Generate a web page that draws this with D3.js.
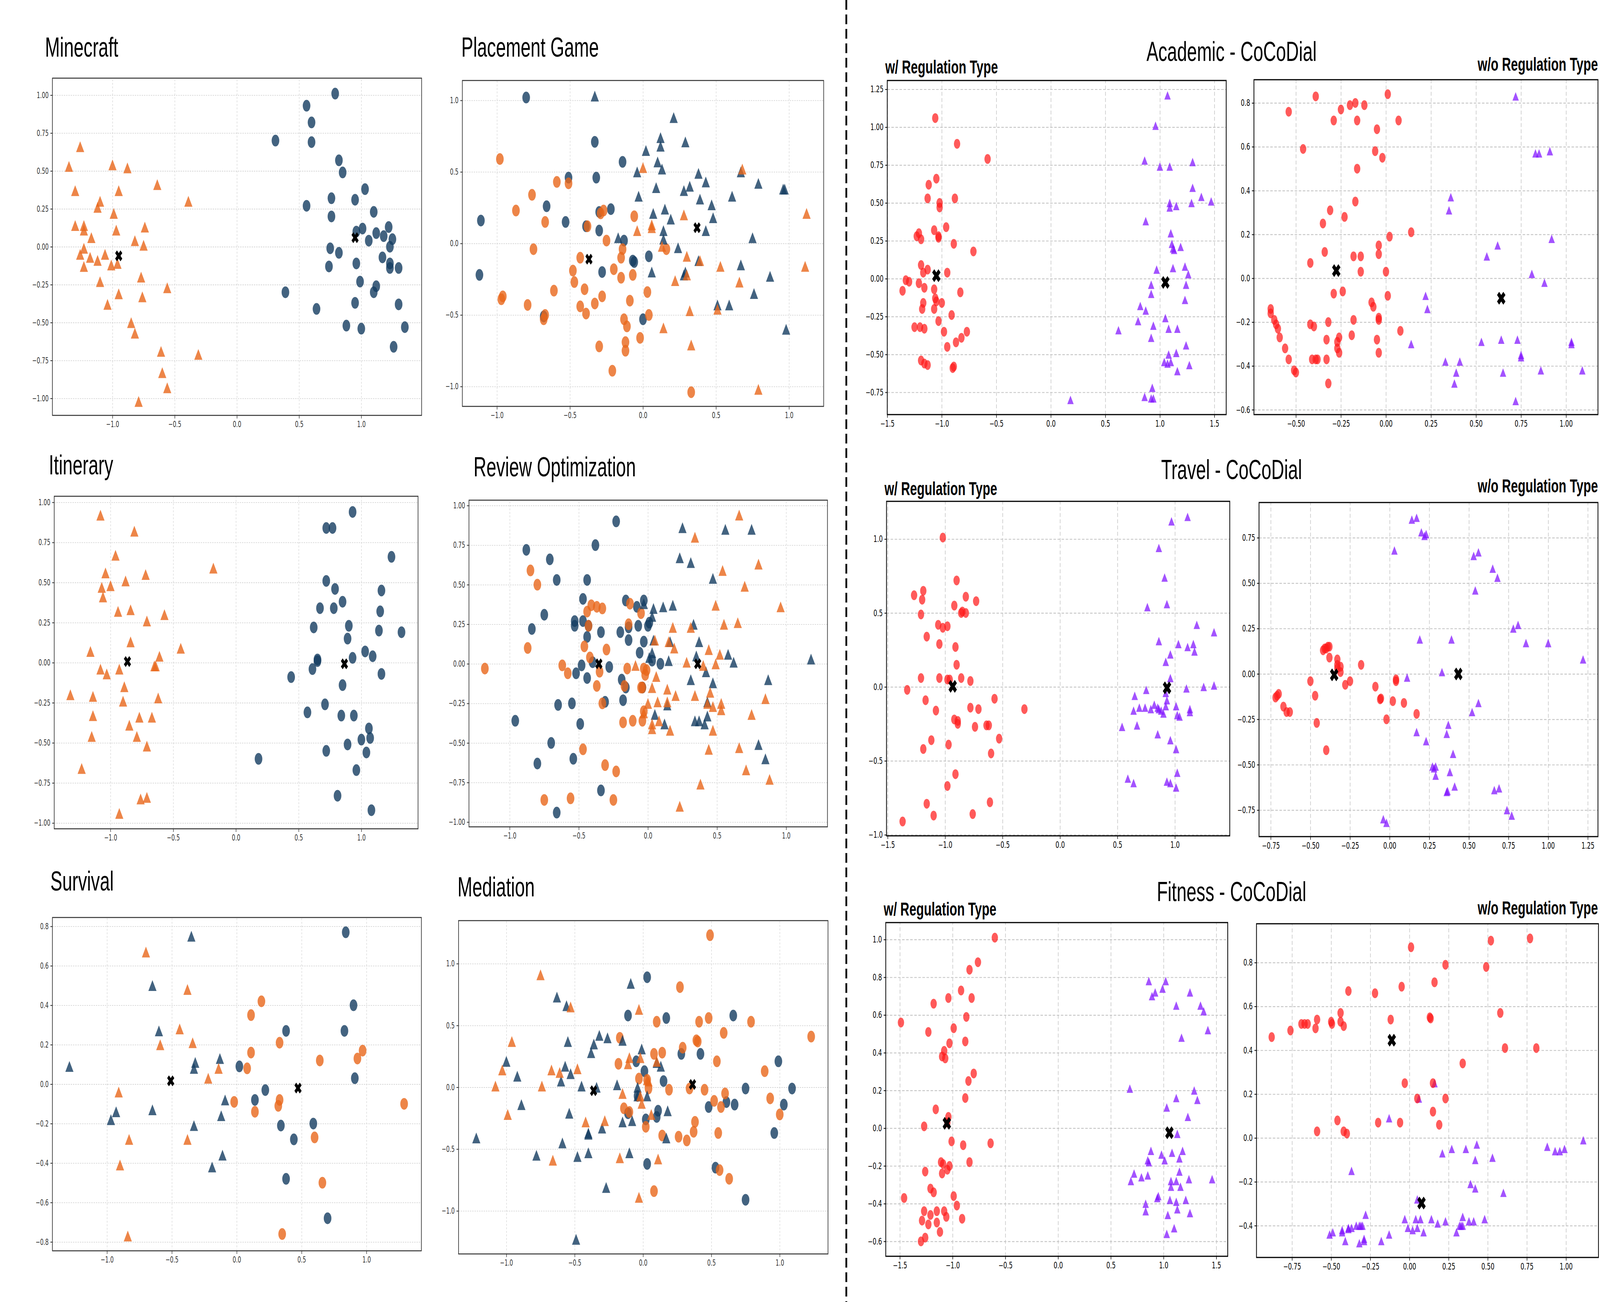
<!DOCTYPE html>
<html>
<head>
<meta charset="utf-8">
<script src="https://cdn.jsdelivr.net/npm/d3@7"></script>
<style>
html,body{margin:0;padding:0;background:#fff;overflow:hidden;width:100%;height:100%;}
svg{display:block;}
</style>
</head>
<body>
<script>
// ---- tick values ----
var tHalf = [-1.0,-0.5,0,0.5,1.0];
var tHalf15 = [-1.5,-1.0,-0.5,0,0.5,1.0,1.5];
var tHalfTravel = [-1.5,-1.0,-0.5,0,0.5,1.0];
var tQ1 = [-1,-0.75,-0.5,-0.25,0,0.25,0.5,0.75,1];
var tQAcadY = [-0.75,-0.5,-0.25,0,0.25,0.5,0.75,1,1.25];
var tQAcadX = [-0.5,-0.25,0,0.25,0.5,0.75,1];
var tQTravX = [-0.75,-0.5,-0.25,0,0.25,0.5,0.75,1,1.25];
var tQTravY = [-0.75,-0.5,-0.25,0,0.25,0.5,0.75];
var tQFitX = [-0.75,-0.5,-0.25,0,0.25,0.5,0.75,1];
var tP2Acad = [-0.6,-0.4,-0.2,0,0.2,0.4,0.6,0.8];
var tP2Surv = [-0.8,-0.6,-0.4,-0.2,0,0.2,0.4,0.6,0.8];
var tP2FitW = [-0.6,-0.4,-0.2,0,0.2,0.4,0.6,0.8,1.0];
var tP2FitO = [-0.4,-0.2,0,0.2,0.4,0.6,0.8];

// ---- titles ----
var leftTitles = ['Minecraft','Placement Game','Itinerary','Review Optimization','Survival','Mediation'];
var groupTitles = ['Academic - CoCoDial','Travel - CoCoDial','Fitness - CoCoDial'];
var withLabel = 'w/ Regulation Type';
var withoutLabel = 'w/o Regulation Type';

// ---- Minecraft ----
var mcOrangeTri = [[-1.26,0.66],[-1.35,0.53],[-1.00,0.54],[-0.88,0.52],[-0.64,0.41],[-1.30,0.37],[-0.95,0.37],[-1.10,0.30],[-1.12,0.26],[-0.39,0.30],[-0.99,0.22],[-1.30,0.14],[-1.23,0.14],[-1.23,0.11],[-0.97,0.11],[-0.74,0.13],[-1.17,0.06],[-0.82,0.04],[-0.75,0.01],[-1.23,-0.01],[-1.26,-0.05],[-1.18,-0.07],[-1.06,-0.05],[-1.12,-0.09],[-1.01,-0.12],[-0.96,-0.11],[-1.23,-0.13],[-0.77,-0.20],[-0.56,-0.27],[-1.10,-0.23],[-0.95,-0.31],[-0.76,-0.33],[-1.04,-0.38],[-0.85,-0.50],[-0.82,-0.57],[-0.61,-0.69],[-0.31,-0.71],[-0.60,-0.83],[-0.56,-0.93],[-0.79,-1.02]];
var mcBlueCirc = [[0.79,1.01],[0.56,0.93],[0.60,0.82],[0.31,0.70],[0.60,0.69],[0.82,0.57],[0.85,0.49],[1.03,0.38],[0.76,0.32],[0.95,0.31],[0.56,0.27],[1.10,0.23],[0.76,0.20],[1.22,0.13],[1.01,0.12],[0.96,0.10],[1.12,0.09],[1.18,0.07],[1.25,0.05],[1.06,0.04],[1.23,0.00],[0.75,-0.01],[0.82,-0.04],[1.17,-0.07],[0.96,-0.11],[1.23,-0.11],[0.74,-0.13],[1.23,-0.14],[1.30,-0.14],[0.99,-0.23],[1.12,-0.26],[1.10,-0.30],[0.39,-0.30],[1.30,-0.38],[0.95,-0.37],[0.64,-0.41],[0.88,-0.52],[1.00,-0.54],[1.35,-0.53],[1.26,-0.66]];
var mcCent = [[-0.95,-0.06],[0.95,0.06]];

// ---- Placement Game ----
var pgBlueCirc = [[-0.80,1.02],[-0.33,0.71],[-0.14,0.57],[-0.51,0.46],[-0.32,0.46],[-0.66,0.26],[-0.22,0.24],[-1.11,0.16],[-0.53,0.15],[-0.30,0.22],[-0.39,0.12],[-0.30,0.09],[-0.13,0.02],[-1.12,-0.22],[-0.28,-0.20],[-0.07,-0.12],[-0.06,-0.13],[0.04,-0.09],[-0.68,-0.51],[0.00,-0.53]];
var pgBlueTri = [[-0.33,1.03],[0.21,0.88],[0.12,0.74],[0.29,0.71],[0.12,0.68],[0.02,0.65],[0.10,0.57],[0.13,0.52],[-0.04,0.50],[0.38,0.49],[0.43,0.43],[0.32,0.40],[0.09,0.39],[0.28,0.37],[-0.03,0.33],[0.39,0.31],[0.61,0.33],[0.79,0.42],[0.96,0.38],[0.97,0.38],[0.47,0.27],[0.48,0.18],[0.07,0.21],[0.15,0.24],[0.19,0.17],[0.14,0.09],[0.43,0.09],[-0.17,0.04],[0.14,0.03],[0.24,-0.03],[0.75,0.04],[0.38,-0.12],[0.28,-0.22],[0.29,-0.20],[0.06,-0.20],[0.67,-0.15],[0.87,-0.23],[0.76,-0.35],[0.51,-0.43],[0.59,-0.43],[0.98,-0.60],[0.67,0.50]];
var pgOrangeCirc = [[-0.98,0.59],[-0.59,0.43],[-0.51,0.42],[-0.76,0.34],[-0.87,0.23],[-0.67,0.15],[-0.75,-0.04],[-0.38,0.12],[-0.29,0.21],[-0.27,0.23],[-0.06,0.19],[-0.25,0.02],[-0.14,-0.04],[-0.15,-0.10],[-0.43,-0.10],[-0.48,-0.19],[-0.47,-0.27],[-0.20,-0.18],[-0.15,-0.24],[-0.07,-0.22],[-0.61,-0.33],[-0.40,-0.32],[-0.97,-0.39],[-0.96,-0.37],[-0.79,-0.43],[-0.28,-0.37],[-0.33,-0.42],[-0.43,-0.44],[-0.39,-0.49],[-0.09,-0.40],[0.03,-0.34],[0.04,-0.50],[-0.13,-0.53],[-0.11,-0.58],[-0.67,-0.50],[-0.68,-0.53],[-0.12,-0.69],[-0.12,-0.75],[-0.02,-0.66],[-0.30,-0.72],[-0.21,-0.89],[0.16,-0.04],[0.33,-1.04]];
var pgOrangeTri = [[0.00,0.53],[0.68,0.52],[0.28,0.20],[0.06,0.13],[0.06,0.11],[-0.04,0.09],[0.13,-0.02],[0.30,-0.09],[0.39,-0.12],[0.53,-0.16],[1.11,-0.16],[1.12,0.21],[0.22,-0.26],[0.30,-0.22],[0.66,-0.27],[0.32,-0.47],[0.51,-0.46],[0.14,-0.59],[0.33,-0.71],[0.79,-1.02]];
var pgCent = [[-0.37,-0.11],[0.37,0.11]];

// ---- Academic w/ ----
var acwRed = [[-1.06,1.06],[-0.86,0.89],[-0.58,0.79],[-1.05,0.66],[-1.12,0.62],[-1.13,0.53],[-0.88,0.53],[-1.02,0.50],[-1.02,0.47],[-0.96,0.34],[-1.07,0.32],[-1.21,0.30],[-1.23,0.28],[-1.19,0.26],[-1.03,0.28],[-1.03,0.27],[-0.89,0.23],[-0.71,0.18],[-1.19,0.09],[-1.13,0.06],[-1.17,0.04],[-0.95,0.04],[-1.33,-0.01],[-1.30,-0.02],[-1.21,-0.03],[-1.16,-0.06],[-1.36,-0.08],[-1.07,-0.07],[-0.83,-0.09],[-1.06,-0.13],[-1.05,-0.15],[-1.00,-0.16],[-1.17,-0.16],[-1.18,-0.20],[-1.07,-0.20],[-0.91,-0.24],[-1.03,-0.28],[-1.25,-0.32],[-1.20,-0.32],[-1.16,-0.33],[-0.98,-0.35],[-0.77,-0.35],[-0.82,-0.39],[-0.87,-0.42],[-0.95,-0.45],[-1.19,-0.54],[-1.16,-0.56],[-1.13,-0.57],[-0.90,-0.59],[-0.89,-0.58]];
var acwPurple = [[1.07,1.21],[0.96,1.01],[0.86,0.78],[1.00,0.74],[1.09,0.74],[1.30,0.77],[1.30,0.60],[1.38,0.54],[1.47,0.51],[1.09,0.50],[1.09,0.47],[1.15,0.48],[1.29,0.50],[0.87,0.38],[1.10,0.30],[1.11,0.23],[1.12,0.20],[1.13,0.19],[1.19,0.21],[1.12,0.07],[1.23,0.08],[1.26,0.03],[0.97,0.06],[0.92,-0.04],[1.24,-0.04],[0.92,-0.10],[1.23,-0.14],[0.82,-0.18],[0.87,-0.21],[1.05,-0.26],[0.80,-0.28],[0.94,-0.31],[1.08,-0.33],[1.16,-0.33],[0.62,-0.34],[0.92,-0.39],[1.24,-0.44],[1.08,-0.50],[1.15,-0.49],[1.04,-0.55],[1.07,-0.56],[1.10,-0.55],[1.27,-0.57],[1.16,-0.61],[0.93,-0.72],[0.86,-0.78],[0.92,-0.79],[0.94,-0.79],[0.18,-0.80]];
var acwCent = [[-1.05,0.02],[1.05,-0.025]];

// ---- Academic w/o ----
var acoRed = [[-0.39,0.83],[-0.54,0.76],[0.01,0.84],[-0.17,0.80],[-0.20,0.79],[-0.12,0.79],[-0.25,0.77],[-0.29,0.72],[-0.16,0.72],[0.07,0.72],[-0.05,0.68],[-0.46,0.59],[-0.06,0.58],[-0.02,0.55],[-0.16,0.50],[-0.17,0.35],[-0.31,0.31],[-0.23,0.28],[-0.35,0.25],[0.02,0.19],[0.14,0.21],[-0.04,0.15],[-0.34,0.12],[-0.14,0.10],[-0.18,0.10],[-0.04,0.11],[-0.42,0.07],[-0.14,0.03],[0.00,0.03],[-0.24,-0.06],[-0.29,-0.07],[0.01,-0.08],[-0.08,-0.11],[-0.07,-0.13],[-0.64,-0.14],[-0.64,-0.16],[-0.62,-0.19],[-0.61,-0.21],[-0.60,-0.23],[-0.59,-0.27],[-0.18,-0.19],[-0.04,-0.18],[-0.04,-0.19],[-0.32,-0.20],[-0.42,-0.21],[-0.40,-0.22],[0.08,-0.24],[-0.56,-0.32],[-0.19,-0.26],[-0.26,-0.27],[-0.33,-0.28],[-0.27,-0.29],[-0.05,-0.28],[-0.27,-0.32],[-0.26,-0.34],[-0.04,-0.34],[-0.54,-0.37],[-0.41,-0.37],[-0.39,-0.37],[-0.38,-0.37],[-0.33,-0.37],[-0.51,-0.42],[-0.50,-0.43],[-0.32,-0.48]];
var acoPurple = [[0.72,0.83],[0.83,0.57],[0.85,0.57],[0.91,0.58],[0.36,0.37],[0.35,0.31],[0.92,0.18],[0.62,0.15],[0.56,0.10],[0.81,0.02],[0.88,-0.02],[0.22,-0.08],[0.23,-0.14],[0.14,-0.30],[0.53,-0.29],[0.64,-0.28],[0.73,-0.28],[1.03,-0.29],[1.03,-0.30],[0.75,-0.35],[0.75,-0.36],[0.33,-0.38],[0.41,-0.38],[0.39,-0.43],[0.65,-0.43],[0.86,-0.42],[1.09,-0.42],[0.38,-0.48],[0.72,-0.56]];
var acoCent = [[-0.276,0.035],[0.64,-0.091]];

// ---- Itinerary ----
var itOrangeTri = [[-1.08,0.92],[-0.81,0.82],[-0.96,0.67],[-0.18,0.59],[-1.04,0.56],[-0.72,0.55],[-0.88,0.51],[-1.07,0.47],[-1.00,0.48],[-1.06,0.41],[-0.94,0.32],[-0.84,0.33],[-0.57,0.30],[-0.71,0.26],[-0.84,0.13],[-1.16,0.07],[-0.44,0.09],[-0.61,0.04],[-1.08,-0.04],[-0.93,-0.04],[-1.03,-0.07],[-0.65,-0.02],[-0.64,-0.02],[-0.89,-0.15],[-1.32,-0.20],[-1.14,-0.21],[-0.90,-0.24],[-0.62,-0.22],[-1.14,-0.33],[-0.77,-0.34],[-0.67,-0.34],[-0.85,-0.39],[-1.15,-0.46],[-0.79,-0.46],[-0.71,-0.52],[-1.23,-0.66],[-0.76,-0.85],[-0.71,-0.84],[-0.93,-0.94]];
var itBlueCirc = [[0.93,0.94],[0.72,0.84],[0.77,0.84],[1.24,0.66],[0.72,0.51],[0.79,0.46],[1.16,0.45],[0.85,0.38],[0.67,0.34],[0.78,0.34],[1.15,0.32],[0.62,0.22],[0.90,0.23],[1.14,0.20],[1.32,0.19],[0.89,0.15],[1.03,0.07],[1.09,0.04],[0.93,0.03],[0.65,0.02],[0.65,0.01],[0.61,-0.04],[1.16,-0.07],[0.44,-0.09],[0.85,-0.14],[0.71,-0.26],[0.57,-0.31],[0.84,-0.33],[0.94,-0.33],[1.06,-0.41],[1.00,-0.48],[1.07,-0.47],[0.89,-0.51],[0.72,-0.55],[1.04,-0.56],[0.18,-0.60],[0.96,-0.67],[0.81,-0.83],[1.08,-0.92]];
var itCent = [[-0.865,0.007],[0.865,-0.007]];

// ---- Review Optimization ----
var roBlueCirc = [[-0.23,0.90],[-0.88,0.72],[-0.38,0.75],[-0.71,0.66],[-0.66,0.53],[-0.44,0.53],[-0.47,0.41],[-0.75,0.31],[-0.84,0.22],[-0.53,0.27],[-0.53,0.24],[-0.47,0.27],[-0.43,0.24],[-0.44,0.17],[-0.34,0.20],[-0.16,0.40],[-0.03,0.40],[-0.08,0.36],[-0.07,0.24],[0.00,0.24],[0.01,0.26],[-0.14,0.23],[-0.14,0.15],[-0.20,0.20],[-0.03,0.14],[-0.06,0.07],[0.03,0.02],[0.09,0.00],[-0.48,-0.01],[-0.40,0.01],[-0.28,-0.02],[-0.52,-0.06],[-0.44,-0.09],[-0.19,-0.10],[-0.16,-0.15],[-0.04,-0.15],[-0.65,-0.26],[-0.55,-0.25],[-0.31,-0.24],[-0.18,-0.23],[-0.96,-0.36],[-0.49,-0.38],[-0.70,-0.50],[-0.54,-0.60],[-0.80,-0.63],[-0.34,-0.80],[-0.66,-0.94]];
var roBlueTri = [[0.25,0.86],[0.56,0.85],[0.75,0.85],[0.23,0.67],[0.31,0.64],[0.47,0.54],[-0.03,0.38],[0.04,0.35],[0.11,0.36],[0.18,0.37],[0.03,0.30],[0.33,0.25],[0.37,0.14],[0.04,0.15],[0.03,0.07],[0.15,0.02],[0.35,0.05],[0.01,0.04],[0.58,0.06],[0.62,0.01],[0.42,-0.05],[0.31,-0.10],[0.47,-0.12],[0.87,-0.10],[1.18,0.03],[0.16,0.14],[0.43,-0.24],[0.14,-0.26],[0.43,-0.33],[0.34,-0.36],[0.37,-0.36],[0.41,-0.38],[0.05,-0.32],[0.12,-0.38],[0.80,-0.51],[0.85,-0.60]];
var roOrangeCirc = [[-0.85,0.59],[-0.80,0.50],[-0.87,0.10],[-1.18,-0.03],[-0.44,0.33],[-0.41,0.37],[-0.37,0.36],[-0.33,0.35],[-0.43,0.24],[-0.13,0.38],[-0.05,0.32],[-0.14,0.25],[-0.46,0.11],[-0.42,0.04],[-0.30,0.09],[-0.62,-0.01],[-0.58,-0.06],[-0.35,-0.05],[-0.37,-0.14],[-0.15,-0.03],[-0.03,-0.03],[-0.02,-0.07],[-0.01,-0.04],[-0.17,-0.14],[-0.05,-0.15],[-0.04,-0.15],[-0.33,-0.25],[-0.03,-0.30],[-0.18,-0.37],[-0.11,-0.36],[-0.04,-0.36],[-0.47,-0.54],[-0.31,-0.64],[-0.23,-0.68],[-0.75,-0.86],[-0.56,-0.85],[-0.25,-0.86]];
var roOrangeTri = [[0.66,0.94],[0.34,0.80],[0.80,0.63],[0.54,0.59],[0.70,0.49],[0.49,0.37],[0.96,0.36],[0.55,0.25],[0.65,0.26],[0.18,0.23],[0.31,0.23],[0.05,0.15],[0.15,0.14],[0.19,0.10],[0.44,0.09],[0.52,0.06],[0.28,0.01],[0.49,0.00],[0.40,-0.01],[-0.09,-0.01],[0.06,-0.08],[0.03,-0.15],[0.14,-0.16],[0.20,-0.20],[0.34,-0.20],[0.45,-0.18],[0.85,-0.22],[0.00,-0.25],[0.07,-0.24],[0.14,-0.24],[0.43,-0.25],[0.47,-0.27],[0.53,-0.25],[0.53,-0.29],[0.75,-0.32],[-0.03,-0.31],[0.03,-0.38],[0.03,-0.41],[0.08,-0.36],[0.16,-0.42],[0.47,-0.42],[0.44,-0.54],[0.66,-0.53],[0.71,-0.67],[0.38,-0.76],[0.88,-0.73],[0.23,-0.90]];
var roCent = [[-0.355,0.0],[0.36,0.0]];

// ---- Travel w/ ----
var trwRed = [[-1.02,1.01],[-0.90,0.72],[-1.19,0.65],[-1.27,0.62],[-1.20,0.59],[-0.82,0.61],[-0.73,0.58],[-0.92,0.55],[-0.86,0.50],[-0.85,0.51],[-0.82,0.50],[-1.21,0.49],[-1.06,0.42],[-1.02,0.40],[-0.98,0.41],[-1.16,0.34],[-1.05,0.29],[-0.91,0.27],[-0.90,0.15],[-1.21,0.06],[-1.05,0.06],[-0.98,0.05],[-0.96,0.05],[-0.86,0.06],[-0.78,0.04],[-1.33,-0.02],[-1.17,-0.09],[-0.57,-0.08],[-1.08,-0.16],[-0.78,-0.14],[-0.71,-0.15],[-0.31,-0.15],[-0.92,-0.22],[-0.89,-0.23],[-0.89,-0.25],[-0.74,-0.27],[-0.64,-0.26],[-0.62,-0.26],[-0.53,-0.35],[-1.12,-0.36],[-0.97,-0.39],[-1.19,-0.42],[-0.60,-0.45],[-0.91,-0.59],[-0.98,-0.67],[-1.16,-0.79],[-0.61,-0.78],[-1.10,-0.87],[-0.76,-0.86],[-1.37,-0.91]];
var trwPurple = [[1.11,1.15],[0.97,1.12],[0.86,0.94],[0.91,0.74],[0.93,0.56],[0.76,0.54],[1.19,0.42],[1.34,0.37],[0.86,0.31],[1.03,0.29],[1.11,0.27],[1.16,0.29],[1.17,0.24],[0.96,0.22],[0.92,0.17],[0.96,0.06],[0.92,-0.04],[1.10,-0.01],[1.25,0.00],[1.34,0.01],[0.75,-0.02],[0.65,-0.06],[0.69,-0.14],[0.74,-0.14],[0.64,-0.16],[0.79,-0.15],[0.82,-0.12],[0.85,-0.14],[0.86,-0.15],[0.88,-0.16],[0.90,-0.18],[0.92,-0.13],[0.93,-0.09],[1.01,-0.13],[1.02,-0.19],[1.04,-0.20],[1.13,-0.15],[1.13,-0.17],[0.54,-0.27],[0.67,-0.26],[0.85,-0.32],[0.96,-0.36],[1.01,-0.42],[1.02,-0.58],[0.59,-0.62],[0.64,-0.65],[0.93,-0.64],[0.96,-0.65],[1.01,-0.68]];
var trwCent = [[-0.934,0.004],[0.931,-0.006]];

// ---- Travel w/o ----
var troRed = [[-0.41,0.14],[-0.40,0.14],[-0.39,0.15],[-0.38,0.15],[-0.42,0.13],[-0.38,0.09],[-0.33,0.08],[-0.33,0.05],[-0.31,0.04],[-0.31,0.01],[-0.33,0.03],[-0.18,0.05],[-0.50,-0.04],[-0.25,-0.04],[-0.28,-0.06],[0.04,-0.04],[0.04,-0.03],[-0.47,-0.12],[-0.09,-0.07],[-0.06,-0.14],[-0.055,-0.135],[0.02,-0.15],[0.09,-0.16],[0.17,-0.22],[-0.72,-0.13],[-0.71,-0.12],[-0.70,-0.11],[-0.67,-0.18],[-0.65,-0.21],[-0.63,-0.21],[-0.46,-0.27],[-0.02,-0.25],[-0.40,-0.42]];
var troPurple = [[0.14,0.85],[0.17,0.86],[0.20,0.78],[0.22,0.76],[0.23,0.77],[0.03,0.68],[0.53,0.65],[0.56,0.67],[0.65,0.58],[0.68,0.53],[0.54,0.46],[0.78,0.25],[0.81,0.27],[0.19,0.19],[0.39,0.19],[0.86,0.17],[1.00,0.17],[1.22,0.08],[0.33,0.01],[0.11,-0.02],[0.52,-0.21],[0.56,-0.16],[0.37,-0.28],[0.17,-0.32],[0.36,-0.33],[0.23,-0.37],[0.40,-0.44],[0.27,-0.51],[0.28,-0.52],[0.29,-0.51],[0.29,-0.56],[0.38,-0.54],[0.36,-0.65],[0.365,-0.645],[0.41,-0.62],[0.66,-0.64],[0.69,-0.63],[0.74,-0.75],[0.77,-0.78],[-0.04,-0.80],[-0.02,-0.82]];
var troCent = [[-0.35,-0.005],[0.433,0.0]];

// ---- Survival ----
var svBlueTri = [[-1.29,0.09],[-0.35,0.75],[-0.65,0.50],[-0.60,0.27],[-0.32,0.11],[-0.33,0.08],[-0.13,0.13],[-0.09,-0.08],[-0.65,-0.13],[-0.93,-0.14],[-0.97,-0.18],[-0.12,-0.16],[-0.33,-0.21],[-0.11,-0.36],[-0.19,-0.42]];
var svOrangeTri = [[-0.70,0.67],[-0.38,0.48],[-0.44,0.28],[-0.34,0.21],[-0.59,0.20],[-0.14,0.08],[-0.22,0.03],[-0.91,-0.04],[-0.83,-0.28],[-0.38,-0.28],[-0.90,-0.41],[-0.84,-0.77]];
var svBlueCirc = [[0.84,0.77],[0.90,0.40],[0.38,0.27],[0.83,0.27],[0.02,0.09],[0.91,0.03],[0.22,-0.03],[0.14,-0.08],[0.34,-0.21],[0.59,-0.20],[0.44,-0.28],[0.38,-0.48],[0.70,-0.68]];
var svOrangeCirc = [[0.19,0.42],[0.11,0.35],[0.33,0.21],[0.11,0.16],[0.08,0.08],[0.97,0.17],[0.93,0.13],[0.64,0.12],[-0.02,-0.09],[0.33,-0.08],[0.32,-0.11],[0.14,-0.14],[0.60,-0.27],[1.29,-0.10],[0.66,-0.50],[0.35,-0.76]];
var svCent = [[-0.509,0.017],[0.472,-0.02]];

// ---- Mediation ----
var mdBlueTri = [[-0.09,0.84],[-0.63,0.73],[-0.56,0.66],[-0.32,0.42],[-0.26,0.40],[-0.15,0.38],[-0.36,0.35],[-0.55,0.37],[-0.01,0.31],[-0.38,0.28],[-1.00,0.21],[-0.57,0.17],[-0.53,0.11],[-0.92,0.09],[-0.60,0.05],[-0.45,0.01],[-0.34,0.00],[-0.19,0.02],[-0.89,-0.14],[-0.04,0.00],[-0.04,-0.07],[0.03,-0.07],[0.10,0.20],[0.13,0.17],[-0.54,-0.21],[0.18,-0.19],[-0.15,-0.28],[-0.08,-0.27],[-0.30,-0.33],[-0.40,-0.37],[-0.40,-0.38],[-0.59,-0.45],[0.17,-0.41],[-1.22,-0.41],[-0.78,-0.55],[-0.48,-0.56],[-0.40,-0.53],[-0.10,-0.53],[-0.27,-0.81],[-0.49,-1.23]];
var mdOrangeTri = [[-0.75,0.91],[-0.53,0.65],[-0.03,0.63],[-0.96,0.37],[-0.10,0.24],[-0.02,0.24],[0.10,0.21],[-0.48,0.15],[-0.67,0.14],[-0.61,0.12],[-1.03,0.14],[-1.08,0.01],[-0.74,0.01],[-0.11,0.19],[-0.15,-0.05],[0.03,0.06],[0.04,0.05],[-0.02,-0.07],[-0.01,-0.13],[-0.99,-0.22],[-0.42,-0.28],[-0.28,-0.27],[0.06,-0.22],[-0.66,-0.59],[-0.17,-0.57],[0.11,-0.58],[-0.03,-0.89]];
var mdBlueCirc = [[0.03,0.89],[-0.11,0.58],[0.17,0.56],[0.66,0.58],[-0.05,0.21],[0.28,0.27],[0.42,0.27],[0.99,0.21],[0.01,0.13],[0.15,0.05],[-0.04,-0.07],[0.75,-0.01],[1.09,-0.01],[0.48,-0.16],[0.61,-0.12],[0.67,-0.14],[1.03,-0.14],[0.11,-0.19],[0.10,-0.24],[0.02,-0.26],[-0.11,-0.21],[0.96,-0.37],[0.53,-0.65],[0.03,-0.62],[0.75,-0.91]];
var mdOrangeCirc = [[0.49,1.23],[0.27,0.81],[0.10,0.53],[0.41,0.53],[0.48,0.56],[0.79,0.53],[0.59,0.44],[-0.17,0.40],[0.40,0.37],[0.39,0.38],[0.29,0.32],[0.08,0.27],[0.14,0.28],[1.23,0.41],[-0.18,0.19],[0.54,0.21],[0.89,0.13],[-0.03,0.07],[0.03,0.06],[0.04,-0.01],[0.19,-0.02],[0.34,-0.01],[0.45,-0.02],[0.60,-0.05],[0.93,-0.09],[0.52,-0.11],[0.57,-0.16],[-0.14,-0.17],[-0.10,-0.20],[1.00,-0.22],[0.38,-0.28],[0.37,-0.36],[0.02,-0.32],[0.14,-0.39],[0.26,-0.40],[0.32,-0.43],[0.55,-0.37],[0.56,-0.67],[0.63,-0.74],[0.08,-0.84]];
var mdCent = [[-0.362,-0.028],[0.362,0.023]];

// ---- Fitness w/ ----
var ftwRed = [[-0.60,1.01],[-0.76,0.88],[-0.84,0.84],[-0.92,0.73],[-0.82,0.69],[-1.04,0.69],[-1.18,0.66],[-0.87,0.59],[-1.49,0.56],[-0.99,0.53],[-1.23,0.51],[-1.03,0.45],[-0.88,0.46],[-1.08,0.41],[-1.10,0.38],[-1.07,0.37],[-0.80,0.29],[-0.85,0.25],[-0.88,0.16],[-1.16,0.10],[-1.04,0.06],[-1.05,0.03],[-1.27,0.01],[-1.01,-0.07],[-0.90,-0.09],[-0.64,-0.08],[-0.84,-0.18],[-1.11,-0.18],[-1.09,-0.19],[-1.03,-0.20],[-1.05,-0.22],[-1.26,-0.23],[-1.10,-0.24],[-1.21,-0.32],[-1.18,-0.34],[-1.46,-0.37],[-0.99,-0.36],[-0.96,-0.41],[-1.27,-0.44],[-1.15,-0.44],[-1.08,-0.44],[-1.21,-0.46],[-1.06,-0.47],[-0.91,-0.48],[-1.29,-0.49],[-1.15,-0.50],[-1.23,-0.51],[-1.12,-0.55],[-1.26,-0.58],[-1.30,-0.60]];
var ftwPurple = [[0.86,0.78],[1.02,0.78],[0.99,0.74],[0.92,0.72],[0.89,0.70],[1.25,0.72],[1.12,0.65],[1.35,0.65],[1.38,0.62],[1.42,0.52],[1.17,0.48],[0.68,0.21],[1.29,0.20],[1.32,0.15],[1.12,0.16],[1.03,0.11],[1.23,0.06],[1.13,-0.03],[0.88,-0.12],[1.08,-0.13],[1.18,-0.12],[0.98,-0.14],[1.01,-0.17],[1.15,-0.16],[0.85,-0.17],[0.86,-0.18],[1.15,-0.23],[0.72,-0.24],[0.69,-0.28],[0.79,-0.26],[0.85,-0.25],[1.07,-0.28],[1.12,-0.28],[1.24,-0.27],[1.46,-0.27],[1.07,-0.31],[1.16,-0.31],[0.95,-0.36],[0.94,-0.37],[0.83,-0.40],[1.06,-0.38],[1.12,-0.39],[1.21,-0.38],[0.83,-0.44],[1.13,-0.43],[1.25,-0.45],[1.04,-0.46],[1.10,-0.53],[1.03,-0.56]];
var ftwCent = [[-1.055,0.026],[1.055,-0.024]];

// ---- Fitness w/o ----
var ftoRed = [[0.77,0.91],[0.52,0.90],[0.01,0.87],[0.23,0.79],[0.49,0.78],[0.16,0.71],[-0.39,0.67],[-0.05,0.69],[-0.22,0.66],[0.58,0.57],[0.13,0.55],[0.135,0.545],[-0.12,0.54],[-0.44,0.57],[-0.44,0.53],[-0.59,0.54],[-0.65,0.52],[-0.67,0.52],[-0.69,0.52],[-0.76,0.49],[-0.60,0.50],[-0.50,0.53],[-0.495,0.52],[-0.42,0.51],[-0.88,0.46],[0.61,0.41],[0.81,0.41],[0.34,0.34],[-0.03,0.25],[0.15,0.25],[0.05,0.18],[0.23,0.18],[0.15,0.12],[0.19,0.06],[-0.20,0.07],[-0.06,0.07],[-0.46,0.08],[-0.42,0.03],[-0.40,0.02],[-0.59,0.03]];
var ftoPurple = [[0.16,0.25],[0.06,0.18],[-0.13,0.09],[1.11,-0.01],[0.88,-0.04],[0.93,-0.06],[0.96,-0.06],[0.99,-0.05],[0.43,-0.03],[0.36,-0.05],[0.27,-0.05],[0.21,-0.07],[0.42,-0.10],[0.53,-0.09],[-0.37,-0.15],[0.39,-0.21],[0.42,-0.23],[0.60,-0.25],[0.05,-0.28],[-0.28,-0.35],[-0.03,-0.37],[0.04,-0.37],[0.07,-0.37],[0.14,-0.37],[0.18,-0.39],[0.23,-0.38],[0.34,-0.36],[0.48,-0.37],[0.38,-0.38],[0.41,-0.38],[0.32,-0.40],[0.34,-0.40],[-0.01,-0.41],[0.05,-0.41],[0.02,-0.42],[0.09,-0.43],[0.30,-0.43],[0.33,-0.40],[-0.51,-0.44],[-0.49,-0.43],[-0.43,-0.42],[-0.43,-0.43],[-0.39,-0.41],[-0.37,-0.41],[-0.39,-0.415],[-0.34,-0.40],[-0.32,-0.40],[-0.31,-0.40],[-0.30,-0.40],[-0.41,-0.47],[-0.32,-0.48],[-0.29,-0.46],[-0.29,-0.47],[-0.18,-0.47],[-0.13,-0.44]];
var ftoCent = [[-0.113,0.446],[0.077,-0.297]];

// ---- drawing ----
var W = 6288, H = 3332;
var ORANGE = '#e8661a', NAVY = '#143c60', RED = '#ff1a1a', PURPLE = '#7f10ff';

// the picture is laid out on a 6288x3332 canvas and stretched to the window
var svg = d3.select('body').append('svg')
  .attr('viewBox', '0 0 ' + W + ' ' + H)
  .attr('preserveAspectRatio', 'none')
  .attr('width', window.innerWidth || W)
  .attr('height', window.innerHeight || H);

var f2 = d3.format('.2f'), f1 = d3.format('.1f');

var panels = [
  {st:'L', frame:[206,200,1657,1063], xd:[-1.483,1.485], yd:[-1.112,1.112], xt:tHalf, yt:tQ1, xf:f1, yf:f2,
   series:[[mcBlueCirc,'c',NAVY],[mcOrangeTri,'t',ORANGE]], cent:mcCent,
   title:leftTitles[0], tx:177, ty:145},
  {st:'L', frame:[1817,206,3237,1040], xd:[-1.237,1.237], yd:[-1.139,1.139], xt:tHalf, yt:tHalf, xf:f1, yf:f1,
   series:[[pgBlueCirc,'c',NAVY],[pgOrangeCirc,'c',ORANGE],[pgBlueTri,'t',NAVY],[pgOrangeTri,'t',ORANGE]], cent:pgCent,
   title:leftTitles[1], tx:1813, ty:145},
  {st:'R', frame:[3487,206,4819,1061], xd:[-1.5,1.608], yd:[-0.897,1.308], xt:tHalf15, yt:tQAcadY, xf:f1, yf:f2,
   series:[[acwPurple,'t',PURPLE],[acwRed,'c',RED]], cent:acwCent, sub:'w', sy:188},
  {st:'R', frame:[4928,204,6280,1061], xd:[-0.733,1.177], yd:[-0.622,0.906], xt:tQAcadX, yt:tP2Acad, xf:f2, yf:f1,
   series:[[acoPurple,'t',PURPLE],[acoRed,'c',RED]], cent:acoCent, sub:'wo', sy:181},
  {st:'L', frame:[213,1270,1643,2121], xd:[-1.449,1.452], yd:[-1.036,1.038], xt:tHalf, yt:tQ1, xf:f1, yf:f2,
   series:[[itBlueCirc,'c',NAVY],[itOrangeTri,'t',ORANGE]], cent:itCent,
   title:leftTitles[2], tx:192, ty:1214},
  {st:'L', frame:[1843,1280,3252,2116], xd:[-1.295,1.299], yd:[-1.03,1.034], xt:tHalf, yt:tQ1, xf:f1, yf:f2,
   series:[[roBlueCirc,'c',NAVY],[roOrangeCirc,'c',ORANGE],[roBlueTri,'t',NAVY],[roOrangeTri,'t',ORANGE]], cent:roCent,
   title:leftTitles[3], tx:1861, ty:1219},
  {st:'R', frame:[3484,1283,4833,2139], xd:[-1.51,1.477], yd:[-1.007,1.255], xt:tHalfTravel, yt:tHalf, xf:f1, yf:f1,
   series:[[trwPurple,'t',PURPLE],[trwRed,'c',RED]], cent:trwCent, sub:'w', sy:1267},
  {st:'R', frame:[4948,1286,6280,2141], xd:[-0.824,1.314], yd:[-0.896,0.944], xt:tQTravX, yt:tQTravY, xf:f2, yf:f2,
   series:[[troPurple,'t',PURPLE],[troRed,'c',RED]], cent:troCent, sub:'wo', sy:1260},
  {st:'L', frame:[206,2348,1656,3201], xd:[-1.421,1.423], yd:[-0.845,0.845], xt:tHalf, yt:tP2Surv, xf:f1, yf:f1,
   series:[[svBlueCirc,'c',NAVY],[svOrangeCirc,'c',ORANGE],[svBlueTri,'t',NAVY],[svOrangeTri,'t',ORANGE]], cent:svCent,
   title:leftTitles[4], tx:198, ty:2279},
  {st:'L', frame:[1802,2356,3254,3209], xd:[-1.35,1.353], yd:[-1.348,1.348], xt:tHalf, yt:tHalf, xf:f1, yf:f1,
   series:[[mdBlueCirc,'c',NAVY],[mdOrangeCirc,'c',ORANGE],[mdBlueTri,'t',NAVY],[mdOrangeTri,'t',ORANGE]], cent:mdCent,
   title:leftTitles[5], tx:1798, ty:2294},
  {st:'R', frame:[3481,2361,4825,3215], xd:[-1.634,1.608], yd:[-0.679,1.09], xt:tHalf15, yt:tP2FitW, xf:f1, yf:f1,
   series:[[ftwPurple,'t',PURPLE],[ftwRed,'c',RED]], cent:ftwCent, sub:'w', sy:2343},
  {st:'R', frame:[4938,2364,6282,3218], xd:[-0.977,1.207], yd:[-0.545,0.977], xt:tQFitX, yt:tP2FitO, xf:f2, yf:f1,
   series:[[ftoPurple,'t',PURPLE],[ftoRed,'c',RED]], cent:ftoCent, sub:'wo', sy:2340}
];

function styleGrid(sel, L){
  sel.select('.domain').remove();
  sel.selectAll('line')
    .attr('stroke', L ? '#d4d4d4' : '#c4c4c4')
    .attr('stroke-width', L ? 1.8 : 2.2)
    .attr('stroke-dasharray', L ? '5,4' : '10,6');
}

function styleAxis(sel, L){
  sel.select('.domain').remove();
  sel.selectAll('line').attr('stroke', L ? '#333' : '#000').attr('stroke-width', 2);
  sel.selectAll('text')
    .attr('font-family', 'DejaVu Sans, sans-serif')
    .attr('font-size', L ? 21 : 23)
    .attr('fill', L ? '#333' : '#000');
}

function drawPanel(p){
  var L = p.st === 'L';
  var f = p.frame;
  var x = d3.scaleLinear().domain(p.xd).range([f[0], f[2]]);
  var y = d3.scaleLinear().domain(p.yd).range([f[3], f[1]]);
  var g = svg.append('g');

  // grid
  g.append('g').attr('transform', 'translate(0,' + f[3] + ')')
    .call(d3.axisBottom(x).tickValues(p.xt).tickSize(-(f[3] - f[1])).tickFormat(''))
    .call(styleGrid, L);
  g.append('g').attr('transform', 'translate(' + f[0] + ',0)')
    .call(d3.axisLeft(y).tickValues(p.yt).tickSize(-(f[2] - f[0])).tickFormat(''))
    .call(styleGrid, L);

  var rc = L ? 15 : 12.5;      // circle radius
  var tw = L ? 32 : 25;        // triangle width
  var triSize = tw * tw * 3 * Math.sqrt(3) / 12;
  var triShift = Math.sqrt(triSize / (3 * Math.sqrt(3))) / 2;

  p.series.forEach(function(s){
    var isTri = s[1] === 't';
    var sym = d3.symbol()
      .type(isTri ? d3.symbolTriangle : d3.symbolCircle)
      .size(isTri ? triSize : Math.PI * rc * rc);
    g.append('g').selectAll('path').data(s[0]).enter().append('path')
      .attr('d', sym)
      .attr('transform', function(d){
        return 'translate(' + x(d[0]) + ',' + (y(d[1]) + (isTri ? triShift : 0)) + ')';
      })
      .attr('fill', s[2])
      .attr('fill-opacity', L ? 0.8 : 0.72);
  });

  // centroids (filled X)
  var ext = L ? 28 : 33;
  var r = ext / 5.66;
  g.append('g').selectAll('path').data(p.cent).enter().append('path')
    .attr('d', d3.symbol().type(d3.symbolCross).size(20 * r * r))
    .attr('transform', function(d){ return 'translate(' + x(d[0]) + ',' + y(d[1]) + ') rotate(45)'; })
    .attr('fill', '#000');

  // frame
  g.append('rect')
    .attr('x', f[0]).attr('y', f[1])
    .attr('width', f[2] - f[0]).attr('height', f[3] - f[1])
    .attr('fill', 'none')
    .attr('stroke', L ? '#333' : '#000')
    .attr('stroke-width', L ? 2.5 : 3);

  // axes
  g.append('g').attr('transform', 'translate(0,' + f[3] + ')')
    .call(d3.axisBottom(x).tickValues(p.xt).tickFormat(p.xf).tickSize(8).tickPadding(7))
    .call(styleAxis, L);
  g.append('g').attr('transform', 'translate(' + f[0] + ',0)')
    .call(d3.axisLeft(y).tickValues(p.yt).tickFormat(p.yf).tickSize(8).tickPadding(7))
    .call(styleAxis, L);

  if (p.title){
    g.append('text').attr('x', p.tx).attr('y', p.ty)
      .attr('font-family', 'Liberation Sans, Arial, Helvetica, sans-serif')
      .attr('font-size', 70).attr('fill', '#000')
      .text(p.title);
  }
  if (p.sub){
    g.append('text')
      .attr('x', p.sub === 'w' ? f[0] - 8 : 6280)
      .attr('y', p.sy)
      .attr('text-anchor', p.sub === 'w' ? 'start' : 'end')
      .attr('font-family', 'Liberation Sans, Arial, Helvetica, sans-serif')
      .attr('font-weight', 'bold')
      .attr('font-size', 49).attr('fill', '#000')
      .text(p.sub === 'w' ? withLabel : withoutLabel);
  }
}

panels.forEach(drawPanel);

// group titles of right half
var groupY = [156, 1226, 2306];
svg.append('g').selectAll('text').data(groupTitles).enter().append('text')
  .attr('x', 4840)
  .attr('y', function(d, i){ return groupY[i]; })
  .attr('text-anchor', 'middle')
  .attr('font-family', 'Liberation Sans, Arial, Helvetica, sans-serif')
  .attr('font-size', 70).attr('fill', '#000')
  .text(function(d){ return d; });

// dashed separator
svg.append('line')
  .attr('x1', 3326).attr('x2', 3326)
  .attr('y1', 0).attr('y2', H)
  .attr('stroke', '#000')
  .attr('stroke-width', 7)
  .attr('stroke-dasharray', '25,12');
</script>
</body>
</html>
